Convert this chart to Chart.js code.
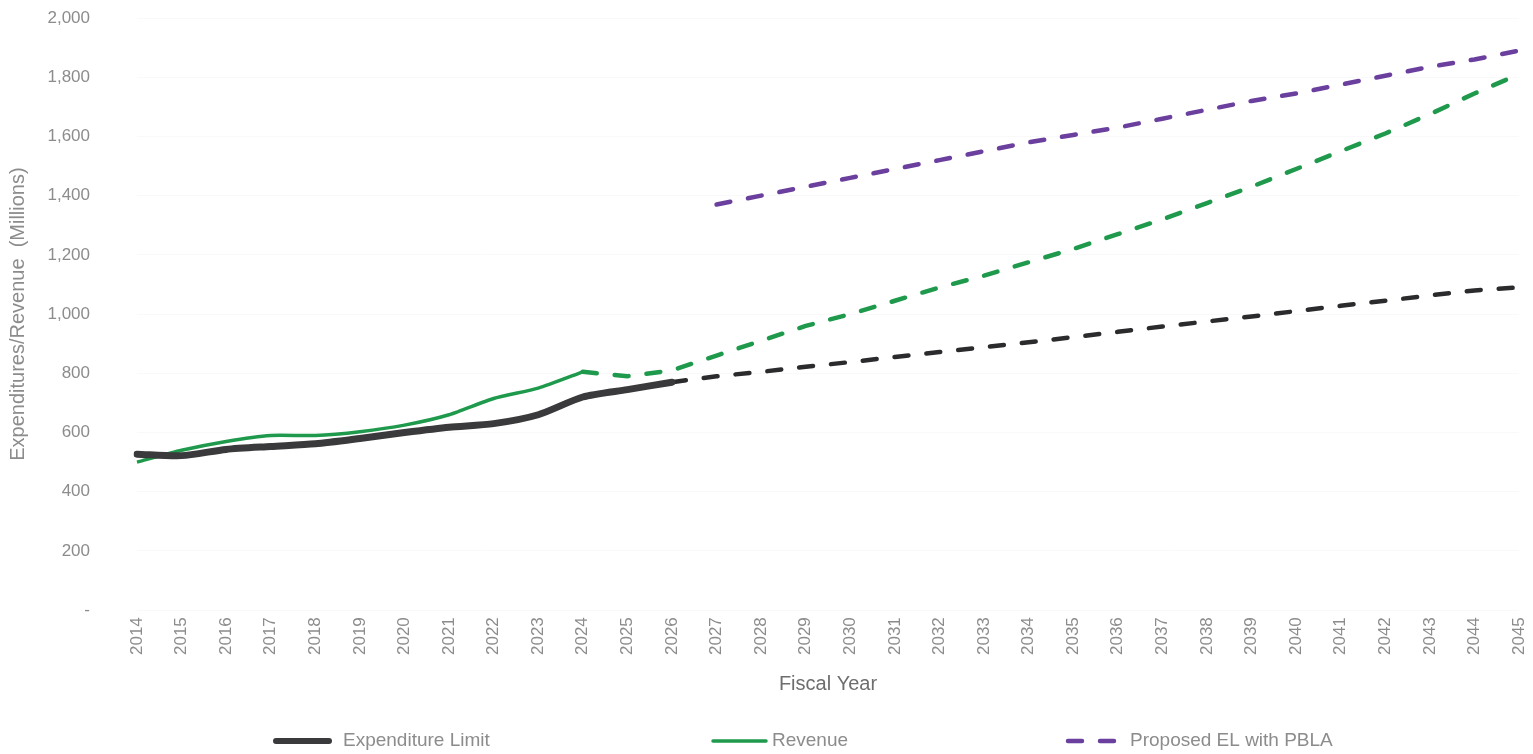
<!DOCTYPE html>
<html>
<head>
<meta charset="utf-8">
<script src="https://cdn.jsdelivr.net/npm/chart.js@4"></script>
<style>
  html, body { margin: 0; padding: 0; background: #fff; }
  #wrap { width: 1533px; height: 754px; }
</style>
</head>
<body>
<div id="wrap"><canvas id="myChart"></canvas></div>
<script>
// Fiscal years on the x axis
const years = ['2014','2015','2016','2017','2018','2019','2020','2021','2022','2023','2024','2025','2026',
  '2027','2028','2029','2030','2031','2032','2033','2034','2035','2036','2037','2038','2039','2040',
  '2041','2042','2043','2044','2045'];

// Expenditure limit, actual 2014-2026 then projected 2026-2045
const elActual = [527, 522, 543, 553, 562, 580, 600, 618, 630, 660, 720, 745, 770];
const elProjected = [770, 790, 805, 822, 838, 855, 872, 888, 905, 922, 940, 958, 975, 992, 1010,
  1028, 1045, 1063, 1080, 1090];

// Revenue, actual 2014-2024 then projected 2024-2045
const revActual = [500, 540, 570, 590, 590, 603, 625, 660, 715, 750, 805];
const revProjected = [805, 790, 810, 860, 910, 960, 1000, 1045, 1090, 1130, 1175, 1220, 1270,
  1320, 1375, 1430, 1490, 1550, 1610, 1675, 1745, 1810];

// Proposed EL with PBLA, 2027-2045
const pbla = [1370, 1400, 1430, 1460, 1490, 1520, 1550, 1580, 1605, 1630, 1660, 1690, 1720,
  1745, 1775, 1805, 1835, 1860, 1890];

// place a series on the year axis starting at a given year
function placeAt(startYear, values) {
  const start = years.indexOf(startYear);
  return years.map((y, i) => (i >= start && i - start < values.length) ? values[i - start] : null);
}

const dark = '#3a3a3c';
const green = '#1f9a4c';
const purple = '#6a3f9e';
const gray = '#8c8c8c';
const dash = [14, 18];

// legend spread out along the bottom like the original
const spreadLegend = {
  id: 'spreadLegend',
  afterDraw(chart) {
    const c = chart.ctx;
    const y = chart.height - 13;
    const starts = [273, 710, 1065];
    const shown = [0, 2, 4];
    c.save();
    c.font = '19px "Liberation Sans"';
    c.textBaseline = 'middle';
    c.fillStyle = gray;
    shown.forEach((idx, k) => {
      const ds = chart.data.datasets[idx];
      const x = starts[k];
      c.beginPath();
      c.strokeStyle = ds.borderColor;
      c.lineWidth = idx === 0 ? 6 : ds.borderWidth;
      c.lineCap = 'round';
      c.setLineDash(ds.borderDash || []);
      c.moveTo(x + 3, y);
      c.lineTo(x + 56, y);
      c.stroke();
      c.setLineDash([]);
      c.fillText(ds.label, x + (idx === 4 ? 65 : idx === 2 ? 62 : 70), y);
    });
    c.restore();
  }
};

const ctx = document.getElementById('myChart').getContext('2d');

const myChart = new Chart(ctx, {
  type: 'line',
  data: {
    labels: years,
    datasets: [
      {
        label: 'Expenditure Limit',
        data: placeAt('2014', elActual),
        borderColor: dark,
        borderWidth: 7,
        borderCapStyle: 'round',
        tension: 0.25
      },
      {
        label: 'EL projected',
        data: placeAt('2026', elProjected),
        borderColor: '#2b2b2d',
        borderWidth: 4.5,
        borderDash: dash,
        borderCapStyle: 'round'
      },
      {
        label: 'Revenue',
        data: placeAt('2014', revActual),
        borderColor: green,
        borderWidth: 3.5,
        tension: 0.2
      },
      {
        label: 'Revenue projected',
        data: placeAt('2024', revProjected),
        borderColor: green,
        borderWidth: 4.5,
        borderDash: dash,
        borderCapStyle: 'round'
      },
      {
        label: 'Proposed EL with PBLA',
        data: placeAt('2027', pbla),
        borderColor: purple,
        borderWidth: 4.5,
        borderDash: dash,
        borderCapStyle: 'round'
      }
    ]
  },
  options: {
    responsive: true,
    maintainAspectRatio: false,
    animation: false,
    elements: { point: { radius: 0, hoverRadius: 0 } },
    layout: { padding: { top: 18, right: 0, left: 0, bottom: 55 } },
    plugins: {
      tooltip: { enabled: false },
      legend: { display: false }
    },
    scales: {
      x: {
        afterFit: (scale) => { scale.paddingRight = 14; },
        grid: { display: false, drawTicks: false },
        border: { display: false },
        ticks: {
          color: gray,
          font: { family: 'Liberation Sans', size: 17 },
          minRotation: 90,
          maxRotation: 90,
          autoSkip: false,
          padding: 7
        },
        title: {
          display: true,
          text: 'Fiscal Year',
          color: '#6e6e6e',
          font: { family: 'Liberation Sans', size: 20 },
          padding: { top: 10, bottom: 3 }
        }
      },
      y: {
        min: 0,
        max: 2000,
        afterFit: (scale) => {
          scale.width = 137;
          scale.paddingTop = 10;
          scale.paddingBottom = 10;
        },
        grid: { color: 'rgba(0,0,0,0.025)', drawTicks: false },
        border: { display: false },
        ticks: {
          stepSize: 200,
          color: gray,
          padding: 47,
          font: { family: 'Liberation Sans', size: 17 },
          callback: (v) => v === 0 ? '-' : v.toLocaleString('en-US')
        },
        title: {
          display: true,
          text: 'Expenditures/Revenue  (Millions)',
          color: gray,
          font: { family: 'Liberation Sans', size: 20 },
          padding: { top: 6, bottom: 0 }
        }
      }
    }
  },
  plugins: [spreadLegend]
});
</script>
</body>
</html>
